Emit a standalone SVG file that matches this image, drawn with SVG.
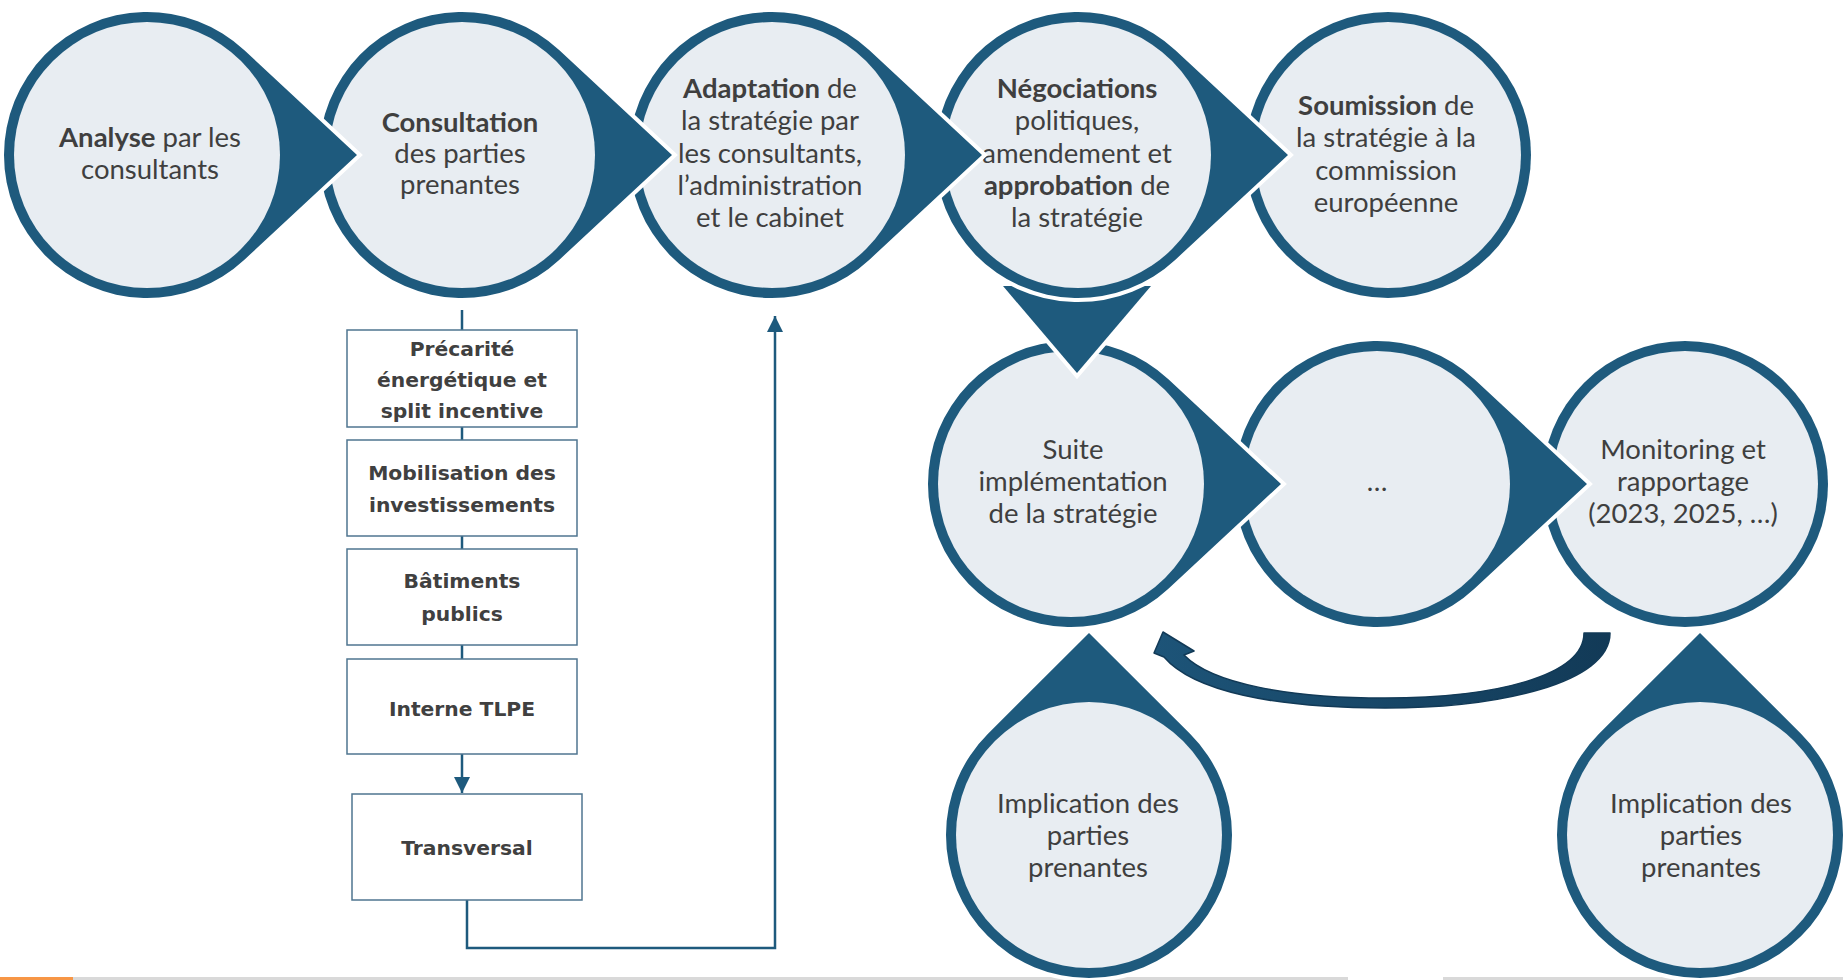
<svg xmlns="http://www.w3.org/2000/svg" width="1843" height="980" viewBox="0 0 1843 980">
<style>
.td{fill:#1E5A7D;stroke:#fff;stroke-width:8;paint-order:stroke;stroke-linejoin:miter}
.in{fill:#E8EDF2}
.t{font-family:Lato,"Open Sans",sans-serif;font-size:27.5px;fill:#3F3F3F;text-anchor:middle}
.b{font-weight:bold}
.bx{fill:#fff;stroke:#4F7590;stroke-width:1.5}
.bt{font-family:"DejaVu Sans",Verdana,sans-serif;font-weight:bold;font-size:20.3px;fill:#404040;text-anchor:middle}
.ln{fill:none;stroke:#1E5A7D;stroke-width:2.5}
</style>
<defs>
<path id="tdR" d="M210 0 L97.4 -104.7 A143 143 0 1 0 97.4 104.7 Z"/>
<path id="tdU" d="M202 0 L101.2 -101 A143 143 0 1 0 101.2 101 Z"/>
<marker id="ah" viewBox="0 0 10 10" refX="10" refY="5" markerWidth="6.4" markerHeight="6.4" markerUnits="strokeWidth" orient="auto">
<path d="M0 0 L10 5 L0 10 Z" fill="#1E5A7D"/>
</marker>
<linearGradient id="cg" x1="0" y1="0" x2="1" y2="0">
<stop offset="0" stop-color="#1D5478"/>
<stop offset="1" stop-color="#123A57"/>
</linearGradient>
</defs>

<g id="footer">
<rect x="0" y="977" width="73" height="3" fill="#F79646"/>
<rect x="73" y="977" width="1275" height="3" fill="#D9D9D9"/>
<rect x="1443" y="977" width="400" height="3" fill="#D9D9D9"/>
</g>

<g id="connectors">
<line class="ln" x1="462" y1="310" x2="462" y2="330"/>
<line class="ln" x1="462" y1="427" x2="462" y2="440"/>
<line class="ln" x1="462" y1="536" x2="462" y2="549"/>
<line class="ln" x1="462" y1="645" x2="462" y2="659"/>
<line class="ln" x1="462" y1="754" x2="462" y2="793" marker-end="url(#ah)"/>
<polyline class="ln" points="467,900 467,948 775,948 775,316" marker-end="url(#ah)"/>
</g>

<g id="n-monitoring">
<circle cx="1685" cy="484" r="143" class="td"/>
<circle cx="1685" cy="484" r="133" class="in"/>
<text class="t"><tspan x="1683" y="459">Monitoring et</tspan><tspan x="1683" y="491">rapportage</tspan><tspan x="1683" y="523">(2023, 2025, …)</tspan></text>
</g>
<g id="n-dots">
<use href="#tdR" class="td" transform="translate(1377,484)"/>
<circle cx="1377" cy="484" r="133" class="in"/>
<text class="t" x="1377" y="491">…</text>
</g>
<g id="n-suite">
<use href="#tdR" class="td" transform="translate(1071,484)"/>
<circle cx="1071" cy="484" r="133" class="in"/>
<text class="t"><tspan x="1073" y="459">Suite</tspan><tspan x="1073" y="491">implémentation</tspan><tspan x="1073" y="523">de la stratégie</tspan></text>
</g>
<g id="n-impl1">
<use href="#tdU" class="td" transform="translate(1089,835) rotate(-90)"/>
<circle cx="1089" cy="835" r="133" class="in"/>
<text class="t"><tspan x="1088" y="813">Implication des</tspan><tspan x="1088" y="845">parties</tspan><tspan x="1088" y="877">prenantes</tspan></text>
</g>
<g id="n-impl2">
<use href="#tdU" class="td" transform="translate(1700,835) rotate(-90)"/>
<circle cx="1700" cy="835" r="133" class="in"/>
<text class="t"><tspan x="1701" y="813">Implication des</tspan><tspan x="1701" y="845">parties</tspan><tspan x="1701" y="877">prenantes</tspan></text>
</g>

<g id="loop-arrow">
<path d="M1584 633 L1610 633 C1610 683 1500 708 1385 708 C1273 708 1193 691 1164 657 L1154 653 L1163 632 L1194 651 L1184 655 C1212 684 1290 698 1385 698 C1495 698 1584 676 1584 633 Z" fill="url(#cg)" stroke="#123A57" stroke-width="1.5" stroke-linejoin="round"/>
</g>

<g id="down-arrow">
<polygon points="1003,286 1151,286 1077,373" class="td"/>
</g>

<g id="n-soumission">
<circle cx="1388" cy="155" r="143" class="td"/>
<circle cx="1388" cy="155" r="133" class="in"/>
<text class="t"><tspan x="1386" y="115"><tspan class="b">Soumission</tspan> de</tspan><tspan x="1386" y="147">la stratégie à la</tspan><tspan x="1386" y="180">commission</tspan><tspan x="1386" y="212">européenne</tspan></text>
</g>
<g id="n-negociations">
<use href="#tdR" class="td" transform="translate(1078,155)"/>
<circle cx="1078" cy="155" r="133" class="in"/>
<text class="t"><tspan x="1077" y="98" class="b">Négociations</tspan><tspan x="1077" y="130">politiques,</tspan><tspan x="1077" y="163">amendement et</tspan><tspan x="1077" y="195"><tspan class="b">approbation</tspan> de</tspan><tspan x="1077" y="227">la stratégie</tspan></text>
</g>
<g id="n-adaptation">
<use href="#tdR" class="td" transform="translate(772,155)"/>
<circle cx="772" cy="155" r="133" class="in"/>
<text class="t"><tspan x="770" y="98"><tspan class="b">Adaptation</tspan> de</tspan><tspan x="770" y="130">la stratégie par</tspan><tspan x="770" y="163">les consultants,</tspan><tspan x="770" y="195">l’administration</tspan><tspan x="770" y="227">et le cabinet</tspan></text>
</g>
<g id="n-consultation">
<use href="#tdR" class="td" transform="translate(462,155)"/>
<circle cx="462" cy="155" r="133" class="in"/>
<text class="t"><tspan x="460" y="132" class="b">Consultation</tspan><tspan x="460" y="163">des parties</tspan><tspan x="460" y="194">prenantes</tspan></text>
</g>
<g id="n-analyse">
<use href="#tdR" class="td" transform="translate(147,155)"/>
<circle cx="147" cy="155" r="133" class="in"/>
<text class="t"><tspan x="150" y="147"><tspan class="b">Analyse</tspan> par les</tspan><tspan x="150" y="179">consultants</tspan></text>
</g>

<g id="b-precarite">
<rect class="bx" x="347" y="330" width="230" height="97"/>
<text class="bt"><tspan x="462" y="356">Précarité</tspan><tspan x="462" y="387">énergétique et</tspan><tspan x="462" y="418">split incentive</tspan></text>
</g>
<g id="b-mobilisation">
<rect class="bx" x="347" y="440" width="230" height="96"/>
<text class="bt"><tspan x="462" y="480">Mobilisation des</tspan><tspan x="462" y="512">investissements</tspan></text>
</g>
<g id="b-batiments">
<rect class="bx" x="347" y="549" width="230" height="96"/>
<text class="bt"><tspan x="462" y="588">Bâtiments</tspan><tspan x="462" y="621">publics</tspan></text>
</g>
<g id="b-tlpe">
<rect class="bx" x="347" y="659" width="230" height="95"/>
<text class="bt" x="462" y="716">Interne TLPE</text>
</g>
<g id="b-transversal">
<rect class="bx" x="352" y="794" width="230" height="106"/>
<text class="bt" x="467" y="855">Transversal</text>
</g>
</svg>
